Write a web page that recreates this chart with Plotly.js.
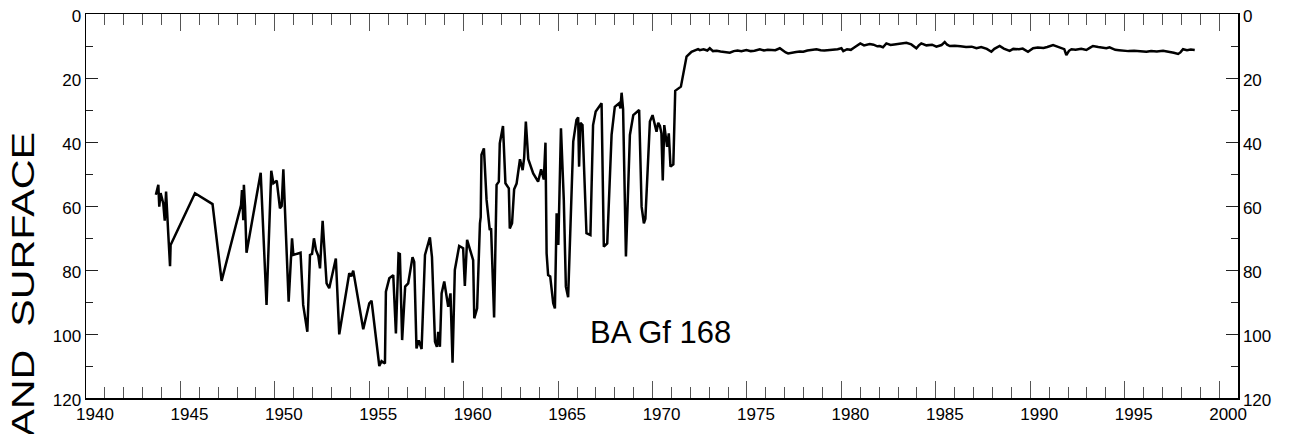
<!DOCTYPE html>
<html>
<head>
<meta charset="utf-8">
<script src="https://cdn.plot.ly/plotly-3.0.1.min.js"></script>
<style>
  html, body { margin: 0; padding: 0; background: #fff; }
  #chart { width: 1289px; height: 434px; }
  /* widen the rotated side label along its baseline */
  .annotation[data-index="1"] .annotation-text {
    transform-box: fill-box;
    transform-origin: center;
    transform: scaleX(1.33);
  }
</style>
</head>
<body>
<div id="chart"></div>
<script>
// Well BA Gf 168: depth to water below land surface, in feet
const years = [
  1943.70, 1943.74, 1943.83, 1943.88, 1943.95, 1944.02, 1944.09, 1944.17, 1944.24, 1944.35,
  1944.45, 1944.48, 1945.77, 1946.70, 1947.18, 1948.21, 1948.26, 1948.33, 1948.36, 1948.42,
  1948.50, 1949.25, 1949.56, 1949.81, 1949.92, 1950.10, 1950.27, 1950.36, 1950.45, 1950.73,
  1950.91, 1950.98, 1951.36, 1951.50, 1951.72, 1951.86, 1951.97, 1952.07, 1952.18, 1952.30,
  1952.39, 1952.53, 1952.74, 1952.88, 1953.00, 1953.23, 1953.41, 1953.94, 1954.05, 1954.15,
  1954.68, 1955.00, 1955.12, 1955.53, 1955.65, 1955.83, 1955.88, 1956.06, 1956.27, 1956.41,
  1956.55, 1956.62, 1956.74, 1956.90, 1957.06, 1957.29, 1957.38, 1957.50, 1957.62, 1957.77,
  1957.95, 1958.21, 1958.32, 1958.48, 1958.58, 1958.65, 1958.74, 1958.83, 1958.97, 1959.10,
  1959.18, 1959.30, 1959.41, 1959.53, 1959.76, 1959.97, 1960.06, 1960.18, 1960.36, 1960.50,
  1960.56, 1960.71, 1960.86, 1960.90, 1960.94, 1961.07, 1961.21, 1961.38, 1961.45, 1961.61,
  1961.74, 1961.86, 1961.91, 1962.08, 1962.21, 1962.39, 1962.44, 1962.56, 1962.67, 1962.80,
  1962.98, 1963.05, 1963.12, 1963.20, 1963.29, 1963.42, 1963.68, 1963.94, 1964.10, 1964.24,
  1964.33, 1964.39, 1964.47, 1964.58, 1964.74, 1964.83, 1964.92, 1965.01, 1965.15, 1965.30,
  1965.41, 1965.53, 1965.80, 1965.97, 1966.06, 1966.11, 1966.18, 1966.29, 1966.50, 1966.71,
  1966.85, 1966.99, 1967.30, 1967.42, 1967.60, 1967.83, 1968.00, 1968.23, 1968.30, 1968.36,
  1968.44, 1968.59, 1968.80, 1968.98, 1969.15, 1969.29, 1969.42, 1969.54, 1969.62, 1969.86,
  1970.00, 1970.12, 1970.21, 1970.30, 1970.39, 1970.47, 1970.54, 1970.62, 1970.77, 1970.86,
  1970.95, 1971.10, 1971.20, 1971.50, 1971.80, 1972.06, 1972.41,
  1972.50, 1972.70, 1972.90, 1973.03, 1973.20, 1973.40, 1973.60, 1973.80, 1974.00, 1974.09,
  1974.30, 1974.50, 1974.70, 1974.97, 1975.20, 1975.40, 1975.68, 1975.90, 1976.10, 1976.30,
  1976.50, 1976.74, 1976.90, 1977.05, 1977.18, 1977.40, 1977.60, 1977.80, 1977.98, 1978.20,
  1978.40, 1978.68, 1978.90, 1979.10, 1979.39, 1979.60, 1979.80, 1980.00, 1980.10, 1980.30,
  1980.50, 1980.70, 1981.00, 1981.20, 1981.50, 1981.70, 1981.90, 1982.03, 1982.20, 1982.38,
  1982.60, 1982.80, 1983.00, 1983.20, 1983.44, 1983.70, 1983.97, 1984.10, 1984.23, 1984.50,
  1984.80, 1985.03, 1985.30, 1985.47, 1985.60, 1985.74, 1986.00, 1986.30, 1986.60, 1986.90,
  1987.15, 1987.40, 1987.70, 1987.94, 1988.10, 1988.38, 1988.60, 1988.91, 1989.10, 1989.40,
  1989.60, 1989.88, 1990.15, 1990.40, 1990.70, 1990.90, 1991.21, 1991.40, 1991.60, 1991.80,
  1991.91, 1992.05, 1992.18, 1992.40, 1992.70, 1992.97, 1993.15, 1993.32, 1993.60, 1993.80,
  1994.03, 1994.20, 1994.50, 1994.70, 1994.91, 1995.20, 1995.50, 1995.80, 1996.15, 1996.40,
  1996.70, 1997.03, 1997.30, 1997.60, 1997.83, 1997.95, 1998.09, 1998.30, 1998.50, 1998.71
];
const depthFt = [
  56.5, 55.5, 53.4, 60.2, 56.0, 57.5, 59.2, 64.6, 55.5, 68.0,
  78.8, 72.2, 56.0, 59.4, 83.4, 59.7, 55.0, 64.4, 53.4, 60.0,
  74.6, 49.6, 90.9, 49.0, 52.9, 52.1, 60.7, 60.0, 48.5, 89.9,
  70.1, 75.3, 74.6, 90.9, 99.3, 75.3, 75.0, 70.1, 73.8, 75.6,
  79.5, 64.6, 84.2, 85.7, 82.6, 76.4, 100.1, 81.0, 82.0, 80.2,
  98.5, 90.4, 89.6, 110.0, 108.5, 109.2, 86.8, 82.6, 81.6, 99.8,
  74.8, 75.0, 101.9, 85.2, 84.2, 76.0, 77.5, 104.5, 102.0, 104.7,
  75.3, 69.8, 76.0, 102.4, 104.0, 99.3, 104.0, 87.3, 83.6, 88.0,
  91.5, 87.3, 109.0, 80.0, 72.5, 73.2, 85.0, 70.6, 74.6, 76.9,
  95.1, 92.0, 65.4, 63.5, 44.0, 42.0, 58.1, 67.5, 67.0, 94.8,
  53.4, 52.4, 40.4, 35.0, 52.9, 54.5, 67.0, 65.4, 54.8, 53.0,
  45.4, 47.5, 48.8, 45.0, 33.6, 45.4, 49.8, 52.4, 48.5, 51.7,
  40.2, 74.8, 81.6, 82.0, 90.4, 92.0, 62.3, 72.2, 35.7, 58.1,
  85.2, 88.5, 39.9, 33.1, 32.3, 47.7, 34.0, 34.7, 68.5, 69.1,
  34.7, 30.5, 27.9, 72.7, 71.7, 37.8, 29.0, 27.9, 29.5, 24.6,
  29.8, 75.8, 37.8, 31.6, 30.8, 30.0, 60.2, 65.4, 64.0, 33.6,
  31.6, 34.5, 36.8, 34.0, 35.0, 37.3, 52.0, 34.7, 41.5, 37.3,
  47.7, 47.0, 24.0, 22.7, 13.3, 11.8, 11.0,
  11.3, 11.0, 11.4, 10.7, 11.6, 11.5, 11.7, 11.8, 11.9, 12.1,
  11.6, 11.4, 11.6, 11.25, 11.6, 11.5, 11.0, 11.4, 11.2, 11.3,
  11.3, 10.7, 11.5, 12.0, 12.3, 12.0, 11.9, 11.7, 11.8, 11.4,
  11.3, 11.0, 11.3, 11.4, 11.25, 11.2, 11.0, 10.7, 11.6, 11.0,
  11.2, 10.4, 9.2, 9.8, 9.4, 9.6, 10.1, 10.0, 10.4, 9.2,
  9.7, 9.5, 9.4, 9.3, 9.0, 9.5, 10.7, 9.8, 9.2, 9.8,
  9.6, 10.2, 9.7, 8.75, 9.6, 10.0, 9.9, 10.1, 10.3, 10.2,
  10.7, 10.3, 10.9, 11.8, 10.9, 10.0, 10.8, 11.5, 10.9, 11.0,
  10.8, 11.8, 10.7, 10.5, 10.6, 10.3, 9.7, 10.1, 10.6, 11.0,
  12.8, 11.5, 11.0, 11.2, 10.9, 11.25, 10.6, 10.0, 10.3, 10.5,
  10.7, 10.4, 11.2, 11.3, 11.5, 11.6, 11.5, 11.7, 11.8, 11.6,
  11.7, 11.5, 11.7, 12.1, 12.5, 12.0, 11.0, 11.3, 11.1, 11.25
];

const wellName = 'BA Gf 168';
const sideLabel = 'LAND\u00a0\u00a0SURFACE';

const xTicks = [1940, 1945, 1950, 1955, 1960, 1965, 1970, 1975, 1980, 1985, 1990, 1995, 2000];
const yTicks = [0, 20, 40, 60, 80, 100, 120];

const FONT = 'Arial, "Liberation Sans", Helvetica, sans-serif';

const yAxisBase = {
  range: [120, 0],
  autorange: false,
  tickmode: 'array',
  tickvals: yTicks,
  ticktext: yTicks.map(String),
  ticks: 'inside',
  ticklen: 12,
  tickwidth: 1,
  tickcolor: '#222',
  minor: { dtick: 10, tick0: 0, ticks: 'inside', ticklen: 7, tickwidth: 1, tickcolor: '#222', showgrid: false },
  showline: true,
  linecolor: '#000',
  linewidth: 1.5,
  showgrid: false,
  zeroline: false,
  tickfont: { family: FONT, size: 17, color: '#000' },
  ticklabelshift: -2
};

const trace = {
  x: years,
  y: depthFt,
  type: 'scatter',
  mode: 'lines',
  line: { color: '#000', width: 2.5 },
  hoverinfo: 'skip',
  showlegend: false
};

const layout = {
  width: 1289,
  height: 434,
  margin: { l: 86, r: 51, t: 14, b: 36, pad: 0 },
  paper_bgcolor: '#fff',
  plot_bgcolor: '#fff',
  font: { family: FONT, color: '#000' },
  showlegend: false,
  xaxis: {
    range: [1940, 2001],
    autorange: false,
    tickmode: 'array',
    tickvals: xTicks,
    ticktext: xTicks.map(String),
    ticks: 'inside',
    ticklen: 17,
    tickwidth: 1,
    tickcolor: '#555',
    minor: { dtick: 1, tick0: 1940, ticks: 'inside', ticklen: 11, tickwidth: 1, tickcolor: '#555', showgrid: false },
    showline: true,
    linecolor: '#000',
    linewidth: 1.5,
    mirror: 'ticks',
    showgrid: false,
    zeroline: false,
    tickfont: { family: FONT, size: 17, color: '#000' },
    ticklabelshift: 9
  },
  yaxis: Object.assign({}, yAxisBase, { side: 'left' }),
  yaxis2: Object.assign({}, yAxisBase, { side: 'right', overlaying: 'y' }),
  annotations: [
    {
      text: wellName,
      xref: 'x', yref: 'y',
      x: 1970.44, y: 99.4,
      xanchor: 'center', yanchor: 'middle',
      showarrow: false,
      font: { family: FONT, size: 31, color: '#000' }
    },
    {
      text: sideLabel,
      xref: 'paper', yref: 'paper',
      x: -0.0547, y: 0.2656,
      xanchor: 'center', yanchor: 'middle',
      textangle: -90,
      showarrow: false,
      font: { family: FONT, size: 31, color: '#000' }
    }
  ]
};

// invisible companion trace so the right-hand axis is drawn
const rightAxisTrace = {
  x: [1940], y: [0], yaxis: 'y2', type: 'scatter', mode: 'markers',
  marker: { opacity: 0 }, hoverinfo: 'skip', showlegend: false
};

Plotly.newPlot('chart', [trace, rightAxisTrace], layout, { staticPlot: true, displayModeBar: false });
</script>
</body>
</html>
